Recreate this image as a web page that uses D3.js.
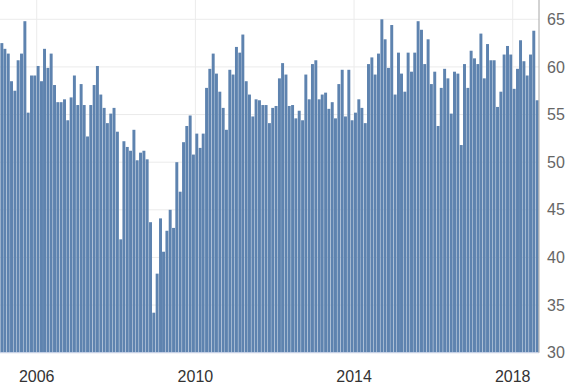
<!DOCTYPE html>
<html>
<head>
<meta charset="utf-8">
<script src="https://cdn.jsdelivr.net/npm/d3@7"></script>
<style>
  body { margin: 0; background: #fff; }
  text { font-family: "Liberation Sans", Arial, sans-serif; }
</style>
</head>
<body>
<div id="chart"></div>
<script>
// monthly values, first one is Dec 2004
var v2004 = [65.0];
var v2005 = [62.5, 61.9, 61.4, 58.5, 57.5, 60.7, 61.4, 64.8, 55.2, 59.1, 59.1, 60.1];
var v2006 = [58.5, 61.9, 59.9, 61.4, 58.1, 56.3, 56.3, 56.6, 54.4, 56.8, 59.1, 56.0];
var v2007 = [58.2, 56.0, 52.7, 56.0, 58.1, 60.1, 57.1, 55.7, 54.1, 55.1, 55.7, 53.2];
var v2008 = [41.9, 52.2, 51.6, 51.2, 53.4, 50.2, 51.0, 51.2, 50.3, 43.7, 34.2, 38.3];
var v2009 = [44.1, 40.6, 42.8, 45.0, 43.1, 50.0, 46.9, 52.1, 53.8, 54.9, 50.8, 53.0];
var v2010 = [51.5, 53.0, 57.8, 59.8, 61.4, 59.3, 57.4, 55.7, 53.4, 59.7, 59.2, 62.1];
var v2011 = [61.5, 63.4, 58.5, 57.1, 54.8, 56.6, 56.5, 56.0, 56.0, 54.1, 55.7, 55.9];
var v2012 = [58.8, 60.4, 59.2, 55.9, 56.0, 54.6, 55.4, 54.4, 59.2, 56.6, 60.3, 60.7];
var v2013 = [56.6, 57.1, 57.3, 55.6, 56.3, 54.6, 58.2, 59.7, 54.8, 59.7, 54.4, 55.2];
var v2014 = [56.6, 55.7, 54.1, 60.3, 61.0, 59.2, 61.4, 65.0, 62.9, 59.9, 64.4, 57.1];
var v2015 = [61.5, 59.3, 57.4, 61.5, 59.5, 61.5, 64.8, 63.9, 60.3, 62.9, 58.2, 59.5];
var v2016 = [53.8, 57.8, 59.8, 58.8, 55.1, 59.5, 59.3, 51.8, 60.3, 57.8, 61.7, 60.9];
var v2017 = [60.3, 63.5, 58.8, 62.4, 60.7, 60.7, 55.8, 57.4, 61.3, 62.2, 61.3, 57.7];
var v2018 = [59.8, 62.8, 60.6, 59.1, 61.3, 63.8, 56.5];

var xTickYears = [2006, 2010, 2014, 2018];
var yTicks = [30, 35, 40, 45, 50, 55, 60, 65];

var allValues = [].concat(v2004, v2005, v2006, v2007, v2008, v2009, v2010,
    v2011, v2012, v2013, v2014, v2015, v2016, v2017, v2018);

// month index 0 = Dec 2004
var data = allValues.map(function(v, i) {
    return {date: new Date(2004, 11 + i, 1), value: v};
});

var width = 581, height = 389;
var plot = {left: 0, right: 539, top: 0, bottom: 352.7};

var svg = d3.select("#chart").append("svg")
    .attr("width", width)
    .attr("height", height);

var x = d3.scaleTime()
    .domain([new Date(2005, 0, 28), new Date(2018, 7, 31)])
    .range([plot.left, plot.right]);

var y = d3.scaleLinear()
    .domain([30, 65])
    .range([plot.bottom, 19.3]);

// bars sit a bit after the month they belong to
function barCenter(d) {
    return x(new Date(d.date.getFullYear(), d.date.getMonth() + 1, 14));
}

svg.append("defs").append("clipPath")
    .attr("id", "clip")
    .append("rect")
    .attr("x", plot.left)
    .attr("y", plot.top)
    .attr("width", plot.right - plot.left)
    .attr("height", plot.bottom - plot.top);

// grid
svg.append("g")
    .selectAll("line")
    .data(yTicks)
    .enter()
    .append("line")
    .attr("x1", plot.left)
    .attr("x2", plot.right)
    .attr("y1", function(d) { return y(d); })
    .attr("y2", function(d) { return y(d); })
    .attr("stroke", "#ebebeb")
    .attr("stroke-width", 1);

svg.append("g")
    .selectAll("line")
    .data(xTickYears)
    .enter()
    .append("line")
    .attr("x1", function(d) { return x(new Date(d, 0, 1)); })
    .attr("x2", function(d) { return x(new Date(d, 0, 1)); })
    .attr("y1", plot.top)
    .attr("y2", plot.bottom)
    .attr("stroke", "#ebebeb")
    .attr("stroke-width", 1);

var barW = 2.95;

svg.append("g")
    .attr("clip-path", "url(#clip)")
    .selectAll("rect")
    .data(data)
    .enter()
    .append("rect")
    .attr("x", function(d) { return barCenter(d) - barW / 2; })
    .attr("width", barW)
    .attr("y", function(d) { return y(d.value); })
    .attr("height", function(d) { return y(30) - y(d.value); })
    .attr("fill", "#5e83af");

// axis lines
svg.append("line")
    .attr("x1", plot.left).attr("x2", plot.right)
    .attr("y1", plot.bottom).attr("y2", plot.bottom)
    .attr("stroke", "#ccd6eb");

svg.append("line")
    .attr("x1", plot.right).attr("x2", plot.right)
    .attr("y1", plot.top).attr("y2", plot.bottom)
    .attr("stroke", "#a6a6a6");

// labels
svg.append("g")
    .selectAll("text")
    .data(yTicks)
    .enter()
    .append("text")
    .attr("x", 547)
    .attr("y", function(d) { return y(d); })
    .attr("dy", "0.35em")
    .attr("fill", "#666")
    .style("font-size", "16px")
    .text(function(d) { return d; });

svg.append("g")
    .selectAll("text")
    .data(xTickYears)
    .enter()
    .append("text")
    .attr("x", function(d) { return x(new Date(d, 0, 1)); })
    .attr("y", 382)
    .attr("text-anchor", "middle")
    .attr("fill", "#333")
    .style("font-size", "16px")
    .text(function(d) { return d; });
</script>
</body>
</html>
